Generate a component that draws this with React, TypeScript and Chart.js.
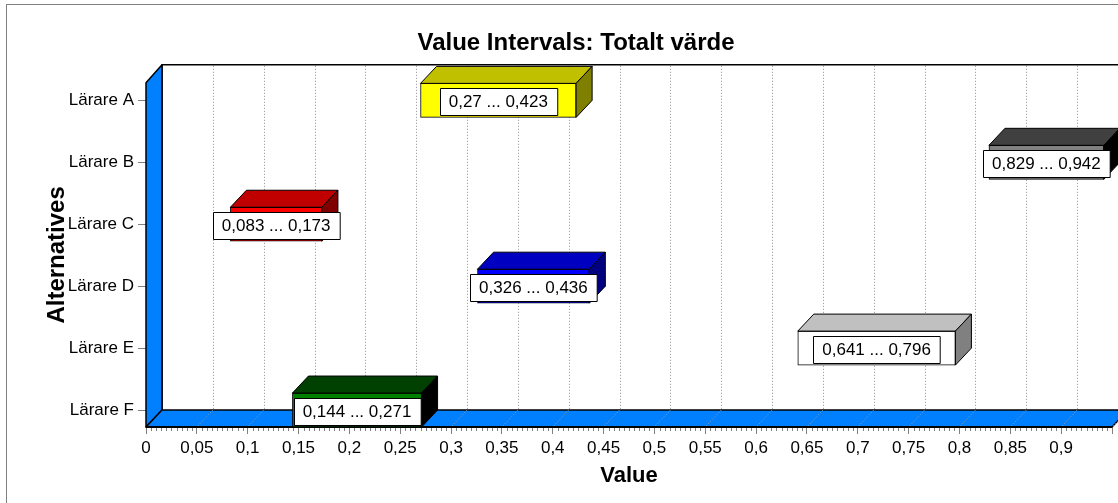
import React, { useEffect, useRef } from 'react';
import { Chart, registerables } from 'chart.js';

Chart.register(...registerables);

// ---------- data ----------
const categories = ['Lärare A', 'Lärare B', 'Lärare C', 'Lärare D', 'Lärare E', 'Lärare F'];
const lowValues = [0.27, 0.829, 0.083, 0.326, 0.641, 0.144];
const highValues = [0.423, 0.942, 0.173, 0.436, 0.796, 0.271];
const frontColors = ['#FFFF00', '#808080', '#FF0000', '#0000FF', '#FFFFFF', '#008000'];
const topColors = ['#C0C000', '#404040', '#C00000', '#0000C0', '#C0C0C0', '#004000'];
const sideColors = ['#808000', '#000000', '#800000', '#000080', '#808080', '#000000'];
const xMin = 0;
const xMax = 0.95;
const xStep = 0.05;
const xMinorStep = 0.005;
const chartTitle = 'Value Intervals: Totalt värde';
const xTitle = 'Value';
const yTitle = 'Alternatives';

// ---------- style ----------
const FONT = '"Liberation Sans", Arial, sans-serif';
const DX = 16;
const DY = 17;
const WALL = '#0080FF';

const fmt = (v: number) => String(Math.round(v * 1000) / 1000).replace('.', ',');

function poly(ctx: CanvasRenderingContext2D, pts: number[][]) {
  ctx.beginPath();
  ctx.moveTo(pts[0][0], pts[0][1]);
  for (let i = 1; i < pts.length; i++) ctx.lineTo(pts[i][0], pts[i][1]);
  ctx.closePath();
  ctx.fill();
  ctx.stroke();
}

const threeD = {
  id: 'threeD',
  beforeDraw(chart: any) {
    const ctx = chart.ctx;
    ctx.save();
    ctx.fillStyle = '#fff';
    ctx.fillRect(0, 0, chart.width, chart.height);
    ctx.strokeStyle = '#808080';
    ctx.lineWidth = 1;
    ctx.strokeRect(6.5, 4.5, chart.width + 40, chart.height + 40);
    ctx.restore();
  },
  beforeDatasetsDraw(chart: any) {
    const { ctx, chartArea: a } = chart;
    const x = chart.scales.x;
    const L = a.left, R = a.right, T = a.top, B = a.bottom;
    ctx.save();
    // back wall
    ctx.fillStyle = '#fff';
    ctx.fillRect(L + DX, T - DY, R - L + 40, B - T);
    // back wall grid lines
    ctx.strokeStyle = '#909090';
    ctx.lineWidth = 1;
    ctx.setLineDash([1, 2]);
    x.ticks.forEach((t: any) => {
      if (t.value <= xMin + 1e-9) return;
      const px = Math.round(x.getPixelForValue(t.value)) + 0.5;
      ctx.beginPath();
      ctx.moveTo(px + DX, T - DY);
      ctx.lineTo(px + DX, B - DY);
      ctx.stroke();
    });
    ctx.setLineDash([]);
    // back wall edges
    ctx.strokeStyle = '#000';
    ctx.lineWidth = 1.5;
    ctx.beginPath();
    ctx.moveTo(L + DX, B - DY);
    ctx.lineTo(L + DX, T - DY - 1);
    ctx.lineTo(chart.width + 10, T - DY - 1);
    ctx.stroke();
    // left wall
    ctx.fillStyle = WALL;
    ctx.lineJoin = 'round';
    poly(ctx, [[L, T], [L + DX, T - DY - 1], [L + DX, B - DY], [L, B]]);
    // floor
    poly(ctx, [[L, B], [L + DX, B - DY], [R + DX, B - DY], [R, B]]);
    // floor grid diagonals
    ctx.strokeStyle = '#a0a0a0';
    ctx.lineWidth = 1;
    ctx.setLineDash([1, 2]);
    x.ticks.forEach((t: any) => {
      if (t.value <= xMin + 1e-9) return;
      const px = x.getPixelForValue(t.value);
      ctx.beginPath();
      ctx.moveTo(px + DX, B - DY);
      ctx.lineTo(px, B);
      ctx.stroke();
    });
    ctx.setLineDash([]);
    // front bottom edge
    ctx.strokeStyle = '#000';
    ctx.lineWidth = 2;
    ctx.beginPath();
    ctx.moveTo(L, B);
    ctx.lineTo(R, B);
    ctx.stroke();
    ctx.restore();
  },
  afterDatasetsDraw(chart: any) {
    const ctx = chart.ctx;
    const meta = chart.getDatasetMeta(0);
    ctx.save();
    ctx.strokeStyle = '#000';
    ctx.lineWidth = 1;
    ctx.lineJoin = 'round';
    meta.data.forEach((bar: any, i: number) => {
      const p = bar.getProps(['x', 'y', 'base', 'height'], true);
      const l = Math.min(p.x, p.base), r = Math.max(p.x, p.base);
      const t = p.y - p.height / 2, b = p.y + p.height / 2;
      ctx.fillStyle = topColors[i];
      poly(ctx, [[l, t], [l + DX, t - DY], [r + DX, t - DY], [r, t]]);
      ctx.fillStyle = sideColors[i];
      poly(ctx, [[r, t], [r + DX, t - DY], [r + DX, b - DY], [r, b]]);
    });
    // data labels
    ctx.font = `17px ${FONT}`;
    ctx.textAlign = 'center';
    ctx.textBaseline = 'middle';
    meta.data.forEach((bar: any, i: number) => {
      const p = bar.getProps(['x', 'y', 'base'], true);
      const cx = (p.x + p.base) / 2;
      const cy = p.y + 1;
      const text = `${fmt(lowValues[i])} ... ${fmt(highValues[i])}`;
      const w = ctx.measureText(text).width + 18;
      const h = 27;
      const bx = Math.round(cx - w / 2) + 0.5;
      const by = Math.round(cy - h / 2) + 0.5;
      ctx.fillStyle = '#fff';
      ctx.fillRect(bx, by, w, h);
      ctx.strokeStyle = '#000';
      ctx.strokeRect(bx, by, w, h);
      ctx.fillStyle = '#000';
      ctx.fillText(text, cx, cy + 1);
    });
    ctx.restore();
  },
  afterDraw(chart: any) {
    const ctx = chart.ctx;
    const x = chart.scales.x;
    const B = chart.chartArea.bottom;
    ctx.save();
    ctx.strokeStyle = '#808080';
    ctx.lineWidth = 1;
    const n = Math.round((xMax - xMin) / xMinorStep);
    for (let i = 0; i <= n; i++) {
      if (i % Math.round(xStep / xMinorStep) === 0) continue;
      const px = Math.round(x.getPixelForValue(xMin + i * xMinorStep)) + 0.5;
      ctx.beginPath();
      ctx.moveTo(px, B + 1);
      ctx.lineTo(px, B + 4);
      ctx.stroke();
    }
    ctx.restore();
  },
};

export default function App() {
  const ref = useRef<HTMLCanvasElement>(null);
  useEffect(() => {
    if (!ref.current) return;
    const chart = new Chart(ref.current, {
      type: 'bar',
      data: {
        datasets: [
          {
            data: categories.map((_, i) => ({ x: [lowValues[i], highValues[i]], y: i })) as any,
            backgroundColor: frontColors,
            borderColor: '#000',
            borderWidth: 1,
            borderSkipped: false,
            barThickness: 34,
          },
        ],
      },
      plugins: [threeD],
      options: {
        indexAxis: 'y',
        responsive: false,
        devicePixelRatio: 1,
        animation: false,
        events: [],
        layout: { padding: { left: 40, right: 6, top: 0, bottom: 0 } },
        plugins: {
          legend: { display: false },
          tooltip: { enabled: false },
          title: {
            display: true,
            text: chartTitle,
            color: '#000',
            font: { family: FONT, size: 24, weight: 'bold' },
            padding: { top: 29, bottom: 25 },
          },
        },
        scales: {
          x: {
            type: 'linear',
            min: xMin,
            max: xMax,
            border: { display: false },
            grid: { drawOnChartArea: false, drawTicks: true, tickLength: 7, color: '#808080' },
            ticks: {
              stepSize: xStep,
              autoSkip: false,
              maxRotation: 0,
              padding: 4,
              color: '#000',
              font: { family: FONT, size: 17 },
              callback: (v: any) => (Math.abs(Number(v) - xMax) < 1e-6 ? '' : fmt(Number(v))),
            },
            title: {
              display: true,
              text: xTitle,
              color: '#000',
              font: { family: FONT, size: 22, weight: 'bold' },
              padding: { top: 0, bottom: 14 },
            },
            afterFit: (s: any) => {
              s.height = 76;
            },
          },
          y: {
            type: 'linear',
            reverse: true,
            offset: false,
            min: -0.284,
            max: 5.274,
            border: { display: false },
            grid: { offset: false, drawOnChartArea: false, drawTicks: true, tickLength: 8, color: '#808080' },
            afterBuildTicks: (s: any) => {
              s.ticks = categories.map((_, i) => ({ value: i }));
            },
            ticks: {
              autoSkip: false,
              padding: 4,
              color: '#000',
              font: { family: FONT, size: 17 },
              callback: (v: any) => categories[Number(v)] ?? '',
            },
            title: {
              display: true,
              text: yTitle,
              color: '#000',
              font: { family: FONT, size: 24, weight: 'bold' },
              padding: { top: 3, bottom: 0 },
            },
            afterFit: (s: any) => {
              s.width = 106;
            },
          },
        },
      } as any,
    });
    return () => chart.destroy();
  }, []);
  return (
    <div style={{ position: 'fixed', left: 0, top: 0, width: 1118, height: 503, background: '#fff' }}>
      <canvas ref={ref} width={1118} height={503} style={{ display: 'block' }} />
    </div>
  );
}
